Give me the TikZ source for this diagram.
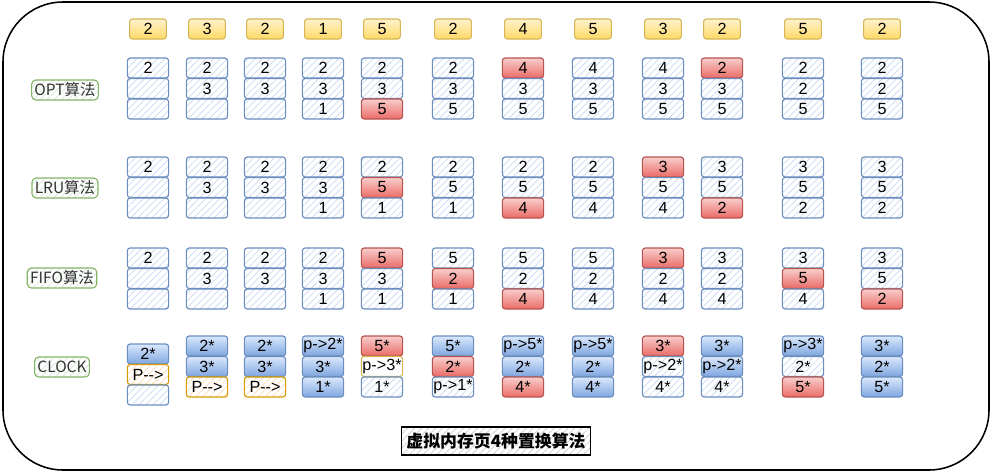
\documentclass[tikz,border=0pt]{standalone}
\usepackage{fontspec}
\setmainfont{Liberation Sans}
\newfontfamily\cjk{Noto Sans CJK SC}
\usepackage{tikz}
\usetikzlibrary{patterns.meta, positioning}
\usepackage{xcolor}
\definecolor{pageline}{HTML}{6C8EBF}
\definecolor{pagehatch}{HTML}{C6D9F3}
\definecolor{hitline}{HTML}{B85450}
\definecolor{hittop}{HTML}{F8CECC}
\definecolor{hitbot}{HTML}{EA6B66}
\definecolor{reqline}{HTML}{D6B656}
\definecolor{reqtop}{HTML}{FFF2CC}
\definecolor{reqbot}{HTML}{FFD966}
\definecolor{usetop}{HTML}{DAE8FC}
\definecolor{usebot}{HTML}{7EA6E0}
\definecolor{ptrline}{HTML}{D79B00}
\definecolor{ptrhatch}{HTML}{FFD9B3}
\definecolor{algline}{HTML}{82B366}
\definecolor{alghatch}{HTML}{D5E8D4}
\definecolor{algtext}{HTML}{333333}

\begin{document}
\begin{tikzpicture}[
  x=0.025cm, y=-0.025cm,
  page/.style={rectangle, rounded corners=2pt, draw=pageline, thick,
               minimum width=1.03cm, minimum height=0.5cm, inner sep=0pt,
               font=\fontsize{11.5}{13}\selectfont},
  cell/.style={page, pattern={Lines[angle=45, distance=3.5pt, line width=0.5pt]},
               pattern color=pagehatch},
  hit/.style={page, draw=hitline, top color=hittop, bottom color=hitbot},
  used/.style={page, top color=usetop, bottom color=usebot},
  ptr/.style={page, draw=ptrline,
              pattern={Lines[angle=45, distance=3.5pt, line width=0.5pt]},
              pattern color=ptrhatch},
  pbox/.style={page, draw=reqline, fill=white},
  req/.style={rectangle, rounded corners=2pt, draw=reqline, thick,
              top color=reqtop, bottom color=reqbot, minimum width=0.92cm,
              minimum height=0.5cm, inner sep=0pt,
              font=\fontsize{11.5}{13}\selectfont},
  algo/.style={rectangle, rounded corners=3pt, draw=algline, thick,
               pattern={Lines[angle=45, distance=3.5pt, line width=0.5pt]},
               pattern color=alghatch, text=algtext, inner sep=2pt,
               minimum height=0.5cm, font=\cjk\fontsize{11}{13}\selectfont},
  title/.style={rectangle, draw=black, thick,
                pattern={Lines[angle=45, distance=3.5pt, line width=0.5pt]},
                pattern color=black!20, minimum width=4.02cm,
                minimum height=0.7cm, font=\cjk\bfseries\fontsize{12}{14}\selectfont}
]
\useasboundingbox (0,0) rectangle (993,474);

% outer frame
\draw[line width=1.1pt, rounded corners=1.5cm] (3,2) rectangle (989,470);

% page requests
\foreach \x/\v [count=\i] in {148/2, 207/3, 265/2, 323/1, 382/5, 453/2,
                              523/4, 593/5, 663/3, 722/2, 803/5, 882/2}
  \node[req] (req\i) at (\x,29) {\v};

% algorithm names
\node[algo] (optname) at (65,90) {OPT算法};
\node[algo] (lruname) at (65,188) {LRU算法};
\node[algo] (fifoname) at (62,278) {FIFO算法};
\node[algo] (clockname) at (62,367) {CLOCK};

% OPT
\foreach \x/\sa/\a/\sb/\b/\sc/\c [count=\i] in {
    148/cell/2/cell/{}/cell/{}, 207/cell/2/cell/3/cell/{},
    265/cell/2/cell/3/cell/{},  323/cell/2/cell/3/cell/1,
    382/cell/2/cell/3/hit/5,    453/cell/2/cell/3/cell/5,
    523/hit/4/cell/3/cell/5,    593/cell/4/cell/3/cell/5,
    663/cell/4/cell/3/cell/5,   722/hit/2/cell/3/cell/5,
    803/cell/2/cell/2/cell/5,   882/cell/2/cell/2/cell/5}
{
  \node[style=\sa] (opt\i-1) at (\x,68) {\a};
  \node[style=\sb] (opt\i-2) at (\x,88.5) {\b};
  \node[style=\sc] (opt\i-3) at (\x,109) {\c};
}

% LRU
\foreach \x/\sa/\a/\sb/\b/\sc/\c [count=\i] in {
    148/cell/2/cell/{}/cell/{}, 207/cell/2/cell/3/cell/{},
    265/cell/2/cell/3/cell/{},  323/cell/2/cell/3/cell/1,
    382/cell/2/hit/5/cell/1,    453/cell/2/cell/5/cell/1,
    523/cell/2/cell/5/hit/4,    593/cell/2/cell/5/cell/4,
    663/hit/3/cell/5/cell/4,    722/cell/3/cell/5/hit/2,
    803/cell/3/cell/5/cell/2,   882/cell/3/cell/5/cell/2}
{
  \node[style=\sa] (lru\i-1) at (\x,167) {\a};
  \node[style=\sb] (lru\i-2) at (\x,187.5) {\b};
  \node[style=\sc] (lru\i-3) at (\x,208) {\c};
}

% FIFO
\foreach \x/\sa/\a/\sb/\b/\sc/\c [count=\i] in {
    148/cell/2/cell/{}/cell/{}, 207/cell/2/cell/3/cell/{},
    265/cell/2/cell/3/cell/{},  323/cell/2/cell/3/cell/1,
    382/hit/5/cell/3/cell/1,    453/cell/5/hit/2/cell/1,
    523/cell/5/cell/2/hit/4,    593/cell/5/cell/2/cell/4,
    663/hit/3/cell/2/cell/4,    722/cell/3/cell/2/cell/4,
    803/cell/3/hit/5/cell/4,    882/cell/3/cell/5/hit/2}
{
  \node[style=\sa] (fifo\i-1) at (\x,258) {\a};
  \node[style=\sb] (fifo\i-2) at (\x,278.5) {\b};
  \node[style=\sc] (fifo\i-3) at (\x,299) {\c};
}

% CLOCK
\foreach \x/\y/\sa/\a/\sb/\b/\sc/\c [count=\i] in {
    148/354/used/2*/ptr/{P-{}->}/cell/{},
    207/346/used/2*/used/3*/ptr/{P-{}->},
    265/346/used/2*/used/3*/ptr/{P-{}->},
    323/346/used/p->2*/used/3*/used/1*,
    382/346/hit/5*/pbox/p->3*/cell/1*,
    453/346/used/5*/hit/2*/cell/p->1*,
    523/346/used/p->5*/used/2*/hit/4*,
    593/346/used/p->5*/used/2*/used/4*,
    663/346/hit/3*/cell/p->2*/cell/4*,
    722/346/used/3*/used/p->2*/cell/4*,
    803/346/used/p->3*/cell/2*/hit/5*,
    882/346/used/3*/used/2*/used/5*}
{
  \node[style=\sa] (clock\i-1) at (\x,\y) {\a};
  \node[style=\sb] (clock\i-2) at (\x,{\y+20.5}) {\b};
  \node[style=\sc] (clock\i-3) at (\x,{\y+41}) {\c};
}

% caption
\node[title] (caption) at (496,441) {虚拟内存页4种置换算法};

\end{tikzpicture}
\end{document}
